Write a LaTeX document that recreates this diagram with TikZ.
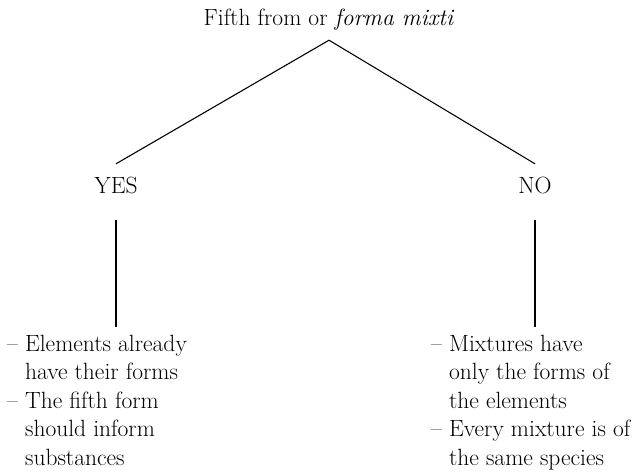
\documentclass[tikz,border=0pt]{standalone}
\newcommand{\notedash}{\textendash\ }
\newcommand{\noteindent}{\phantom{\textendash\ }}
\begin{document}
\begin{tikzpicture}[x=1pt,y=-1pt,
  txt/.style={inner sep=0pt,font=\fontsize{23.5}{28.5}\selectfont},
  notes/.style={txt,align=left,anchor=north west,inner ysep=7.7pt},
  branch/.style={line width=1.1pt}]
  \useasboundingbox (0,0) rectangle (642,471);
  \node [txt,anchor=base,text depth=15pt] (top) at (329,25) {Fifth from or \textit{forma mixti}};
  \node [txt,anchor=base,text height=29pt,text depth=27pt] (yes) at (116,193) {YES};
  \node [txt,anchor=base,text height=29pt,text depth=27pt] (no) at (535,193) {NO};
  \node [notes] (yesnotes) at (7,327) {\notedash Elements already\\\noteindent have their forms\\\notedash The fifth form\\\noteindent should inform\\\noteindent substances};
  \node [notes] (nonotes) at (431,327) {\notedash Mixtures have\\\noteindent only the forms of\\\noteindent the elements\\\notedash Every mixture is of\\\noteindent the same species};
  \draw [branch] (yes.north) -- (top.south) -- (no.north);
  \draw [branch] (yes.south) -- (yes.south |- yesnotes.north);
  \draw [branch] (no.south) -- (no.south |- nonotes.north);
\end{tikzpicture}
\end{document}
